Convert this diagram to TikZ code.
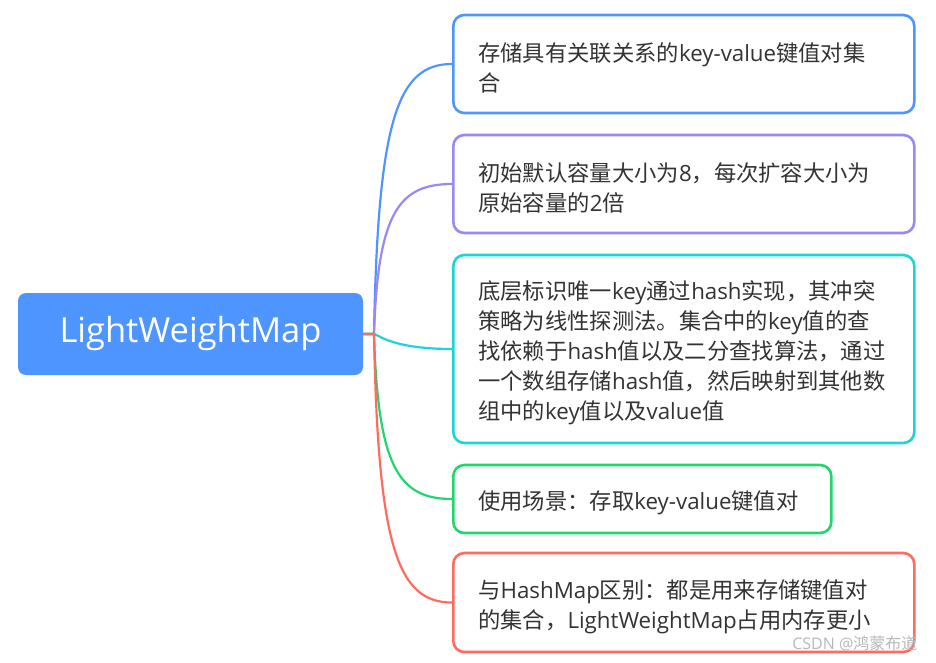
\documentclass[tikz,border=0pt]{standalone}
\usepackage{fontspec}
\setmainfont{Noto Sans CJK SC}
\newfontfamily\latinfont{Open Sans}
\newcommand{\en}[1]{{\latinfont #1}}

\definecolor{mapblue}{HTML}{4F95FF}
\definecolor{mappurple}{HTML}{9C87F3}
\definecolor{mapteal}{HTML}{1DD5D2}
\definecolor{mapgreen}{HTML}{22D56E}
\definecolor{mapred}{HTML}{FF6B5E}
\definecolor{maptext}{HTML}{333333}

\begin{document}
\begin{tikzpicture}[x=1pt, y=-1pt,
    root/.style={fill=mapblue, rounded corners=8pt, text=white, font=\latinfont\fontsize{34.5}{40}\selectfont,
        minimum width=345pt, minimum height=82pt, inner sep=0pt},
    leaf/.style={line width=2.6pt, rounded corners=11pt, fill=white, text=maptext, anchor=west,
        font=\fontsize{22.3}{30}\selectfont, align=left, text width=420pt, inner xsep=25pt, inner ysep=0pt,
        execute at begin node={\rule{0pt}{27pt}}},
    branch/.style={line width=2.2pt}]

    \useasboundingbox (0,0) rectangle (936,662);

    % ==========================================
    % Nodo central
    % ==========================================
    \node[root] (lwm) at (190.5,334) {LightWeightMap};
    \coordinate (hub) at (374,334);

    % ==========================================
    % Ramas
    % ==========================================
    \node[leaf, draw=mapblue, minimum height=98pt, text width=411pt] (store) at (452,64)
        {存储具有关联关系的\en{key-value}键值对集\\合};
    \node[leaf, draw=mappurple, minimum height=98pt, text width=411pt] (size) at (452,184)
        {初始默认容量大小为\en{8}，每次扩容大小为\\原始容量的\en{2}倍};
    \node[leaf, draw=mapteal, minimum height=188pt, text width=411pt] (hash) at (452,349)
        {底层标识唯一\en{key}通过\en{hash}实现，其冲突\\策略为线性探测法。集合中的\en{key}值的查\\找依赖于\en{hash}值以及二分查找算法，通过\\一个数组存储\en{hash}值，然后映射到其他数\\组中的\en{key}值以及\en{value}值};
    \node[leaf, draw=mapgreen, minimum height=68pt, text width=328pt] (use) at (452,499)
        {使用场景：存取\en{key-value}键值对};
    \node[leaf, draw=mapred, minimum height=99pt, text width=411pt] (diff) at (452,602.5)
        {与\en{HashMap}区别：都是用来存储键值对\\的集合，\en{LightWeightMap}占用内存更小};

    % Conectores
    \draw[branch, mapblue]   (lwm.east) -- (hub) .. controls (378,118) and (398,64) .. (store.west);
    \draw[branch, mappurple] (lwm.east) -- (hub) .. controls (378,214) and (398,184) .. (size.west);
    \draw[branch, mapteal]   (lwm.east) -- (hub) .. controls (380,336) and (395,349) .. (hash.west);
    \draw[branch, mapgreen]  (lwm.east) -- (hub) .. controls (378,466) and (398,499) .. (use.west);
    \draw[branch, mapred]    (lwm.east) -- (hub) .. controls (378,548) and (398,602.5) .. (diff.west);

    % Marca de agua
    \node[anchor=east, text=black!28, font=\fontsize{16}{18}\selectfont] (mark) at (921,643) {\en{CSDN @}鸿蒙布道};

\end{tikzpicture}
\end{document}
